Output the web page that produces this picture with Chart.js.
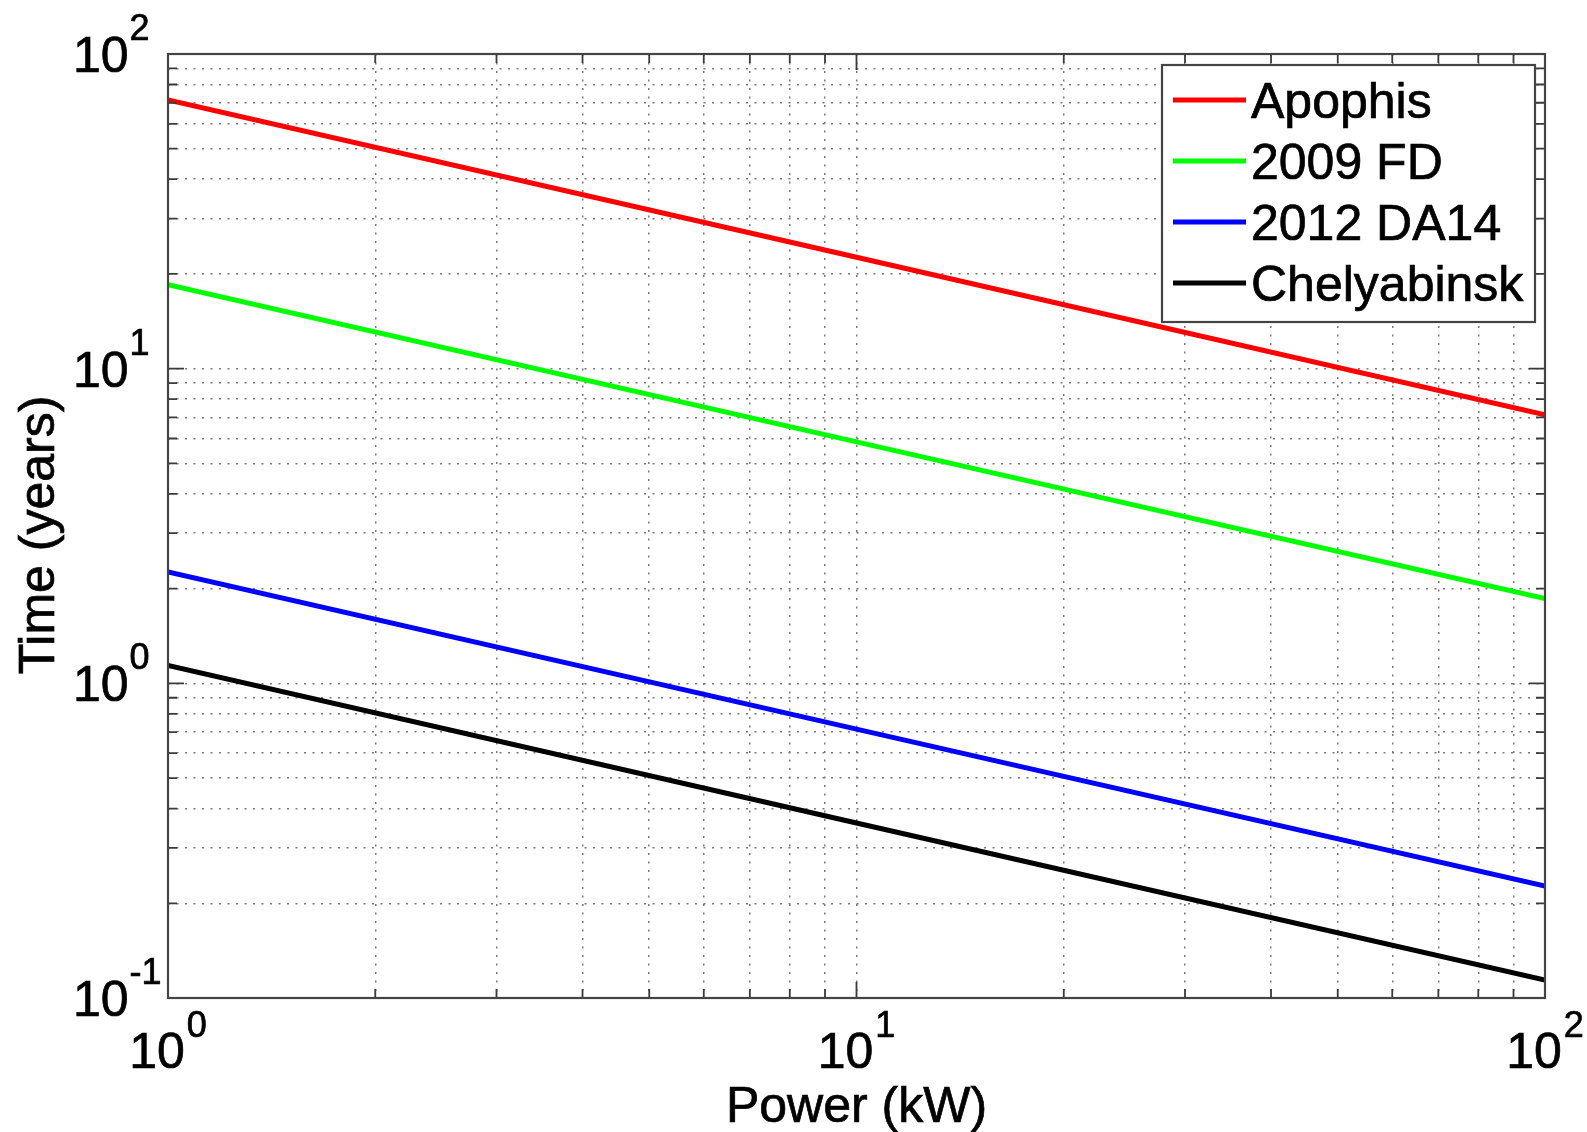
<!DOCTYPE html>
<html>
<head>
<meta charset="utf-8">
<script src="https://cdn.jsdelivr.net/npm/chart.js@4/dist/chart.umd.min.js"></script>
<style>
  body{margin:0;background:#fff;}
  #wrap{width:1587px;height:1132px;}
</style>
</head>
<body>
<div id="wrap"><canvas id="chart" width="1587" height="1132"></canvas></div>
<script>
// values (years vs kW, log-log)
const powerKW = [1, 10, 100];
const apophis = [71.4, 22.6, 7.14];
const fd2009 = [18.5, 5.85, 1.86];
const da2012 = [2.26, 0.715, 0.227];
const chelyabinsk = [1.14, 0.36, 0.114];
const seriesNames = ['Apophis', '2009 FD', '2012 DA14', 'Chelyabinsk'];
const seriesColors = ['#ff0000', '#00ff00', '#0000ff', '#000000'];

const xTickValues = [1,2,3,4,5,6,7,8,9,10,20,30,40,50,60,70,80,90,100];
const yTickValues = [0.1,0.2,0.3,0.4,0.5,0.6,0.7,0.8,0.9,1,2,3,4,5,6,7,8,9,10,20,30,40,50,60,70,80,90,100];
const xMajor = [1, 10, 100];
const xExp = ['0', '1', '2'];
const yMajor = [0.1, 1, 10, 100];
const yExp = ['-1', '0', '1', '2'];

const FONT = '"Liberation Sans", Arial, Helvetica, sans-serif';
const BIG = '50px ' + FONT, SUP = '36px ' + FONT;

function pts(ys){ return powerKW.map((x,i)=>({x:x, y:ys[i]})); }

// slightly heavier text, the reference is a blurry Helvetica
function txt(ctx, s, x, y){ ctx.fillText(s, x, y); ctx.strokeText(s, x, y); }

const matlabAxes = {
  id:'matlabAxes',
  afterDraw(chart){
    const ctx = chart.ctx, a = chart.chartArea;
    const xs = chart.scales.x, ys = chart.scales.y;
    ctx.save();
    // inward ticks on all four sides
    ctx.strokeStyle = '#3a3a3a'; ctx.lineWidth = 1.8;
    xs.ticks.forEach(t=>{
      const px = xs.getPixelForValue(t.value);
      if(px <= a.left+1 || px >= a.right-1) return;
      const len = xMajor.includes(t.value) ? 16 : 9;
      ctx.beginPath();
      ctx.moveTo(px, a.bottom); ctx.lineTo(px, a.bottom-len);
      ctx.moveTo(px, a.top); ctx.lineTo(px, a.top+len);
      ctx.stroke();
    });
    ys.ticks.forEach(t=>{
      const py = ys.getPixelForValue(t.value);
      if(py <= a.top+1 || py >= a.bottom-1) return;
      const len = yMajor.includes(t.value) ? 16 : 9;
      ctx.beginPath();
      ctx.moveTo(a.left, py); ctx.lineTo(a.left+len, py);
      ctx.moveTo(a.right, py); ctx.lineTo(a.right-len, py);
      ctx.stroke();
    });
    // box
    ctx.strokeStyle = '#444'; ctx.lineWidth = 2.2;
    ctx.strokeRect(a.left, a.top, a.right-a.left, a.bottom-a.top);

    // tick labels as 10^n
    ctx.fillStyle = '#000'; ctx.strokeStyle = '#000'; ctx.lineWidth = 0.7;
    ctx.textBaseline = 'alphabetic'; ctx.textAlign = 'left';
    xMajor.forEach((v,i)=>{
      const px = xs.getPixelForValue(v);
      ctx.font = BIG;
      const wb = ctx.measureText('10').width;
      ctx.font = SUP;
      const we = ctx.measureText(xExp[i]).width;
      const start = px - (wb + 2 + we)/2;
      ctx.font = BIG;
      txt(ctx, '10', start, a.bottom + 70);
      ctx.font = SUP;
      txt(ctx, xExp[i], start + wb + 2, a.bottom + 39);
    });
    yMajor.forEach((v,i)=>{
      const py = ys.getPixelForValue(v);
      const start = a.left - 95;
      ctx.font = BIG;
      const wb = ctx.measureText('10').width;
      txt(ctx, '10', start, py + 18);
      ctx.font = SUP;
      txt(ctx, yExp[i], start + wb + 1, py - 14);
    });

    // axis titles
    ctx.font = BIG;
    ctx.textAlign = 'center';
    txt(ctx, 'Power (kW)', (a.left+a.right)/2, 1122);
    ctx.save();
    ctx.translate(54, 535);
    ctx.rotate(-Math.PI/2);
    txt(ctx, 'Time (years)', 0, 0);
    ctx.restore();

    // legend
    ctx.fillStyle = '#fff';
    ctx.fillRect(1162, 65, 373, 257);
    ctx.strokeStyle = '#444'; ctx.lineWidth = 2.2;
    ctx.strokeRect(1162, 65, 373, 257);
    ctx.textAlign = 'left';
    chart.data.datasets.forEach((ds,i)=>{
      const y = 100 + i*61;
      ctx.strokeStyle = ds.borderColor; ctx.lineWidth = 5;
      ctx.beginPath(); ctx.moveTo(1173, y); ctx.lineTo(1246, y); ctx.stroke();
      ctx.fillStyle = '#000'; ctx.strokeStyle = '#000'; ctx.lineWidth = 0.7;
      ctx.font = BIG;
      txt(ctx, ds.label, 1251, y + 18);
    });
    ctx.restore();
  }
};

const gridOpts = {color:'#7a7a7a', lineWidth:1.5, drawTicks:false};
const borderOpts = {display:false, dash:[2,6.5]};

new Chart(document.getElementById('chart'), {
  type:'line',
  data:{
    datasets:[apophis, fd2009, da2012, chelyabinsk].map((s,i)=>({
      label: seriesNames[i],
      data: pts(s),
      borderColor: seriesColors[i],
      borderWidth: 5,
      pointRadius: 0,
      tension: 0,
      fill: false
    }))
  },
  options:{
    responsive:false,
    animation:false,
    layout:{padding:{left:168, top:54, right:42, bottom:134}},
    plugins:{legend:{display:false}, tooltip:{enabled:false}},
    scales:{
      x:{
        type:'logarithmic', min:1, max:100,
        afterBuildTicks: s => { s.ticks = xTickValues.map(v=>({value:v, major:xMajor.includes(v)})); },
        ticks:{display:false},
        grid:gridOpts, border:borderOpts
      },
      y:{
        type:'logarithmic', min:0.1, max:100,
        afterBuildTicks: s => { s.ticks = yTickValues.map(v=>({value:v, major:yMajor.includes(v)})); },
        ticks:{display:false},
        grid:gridOpts, border:borderOpts
      }
    }
  },
  plugins:[matlabAxes]
});
</script>
</body>
</html>
